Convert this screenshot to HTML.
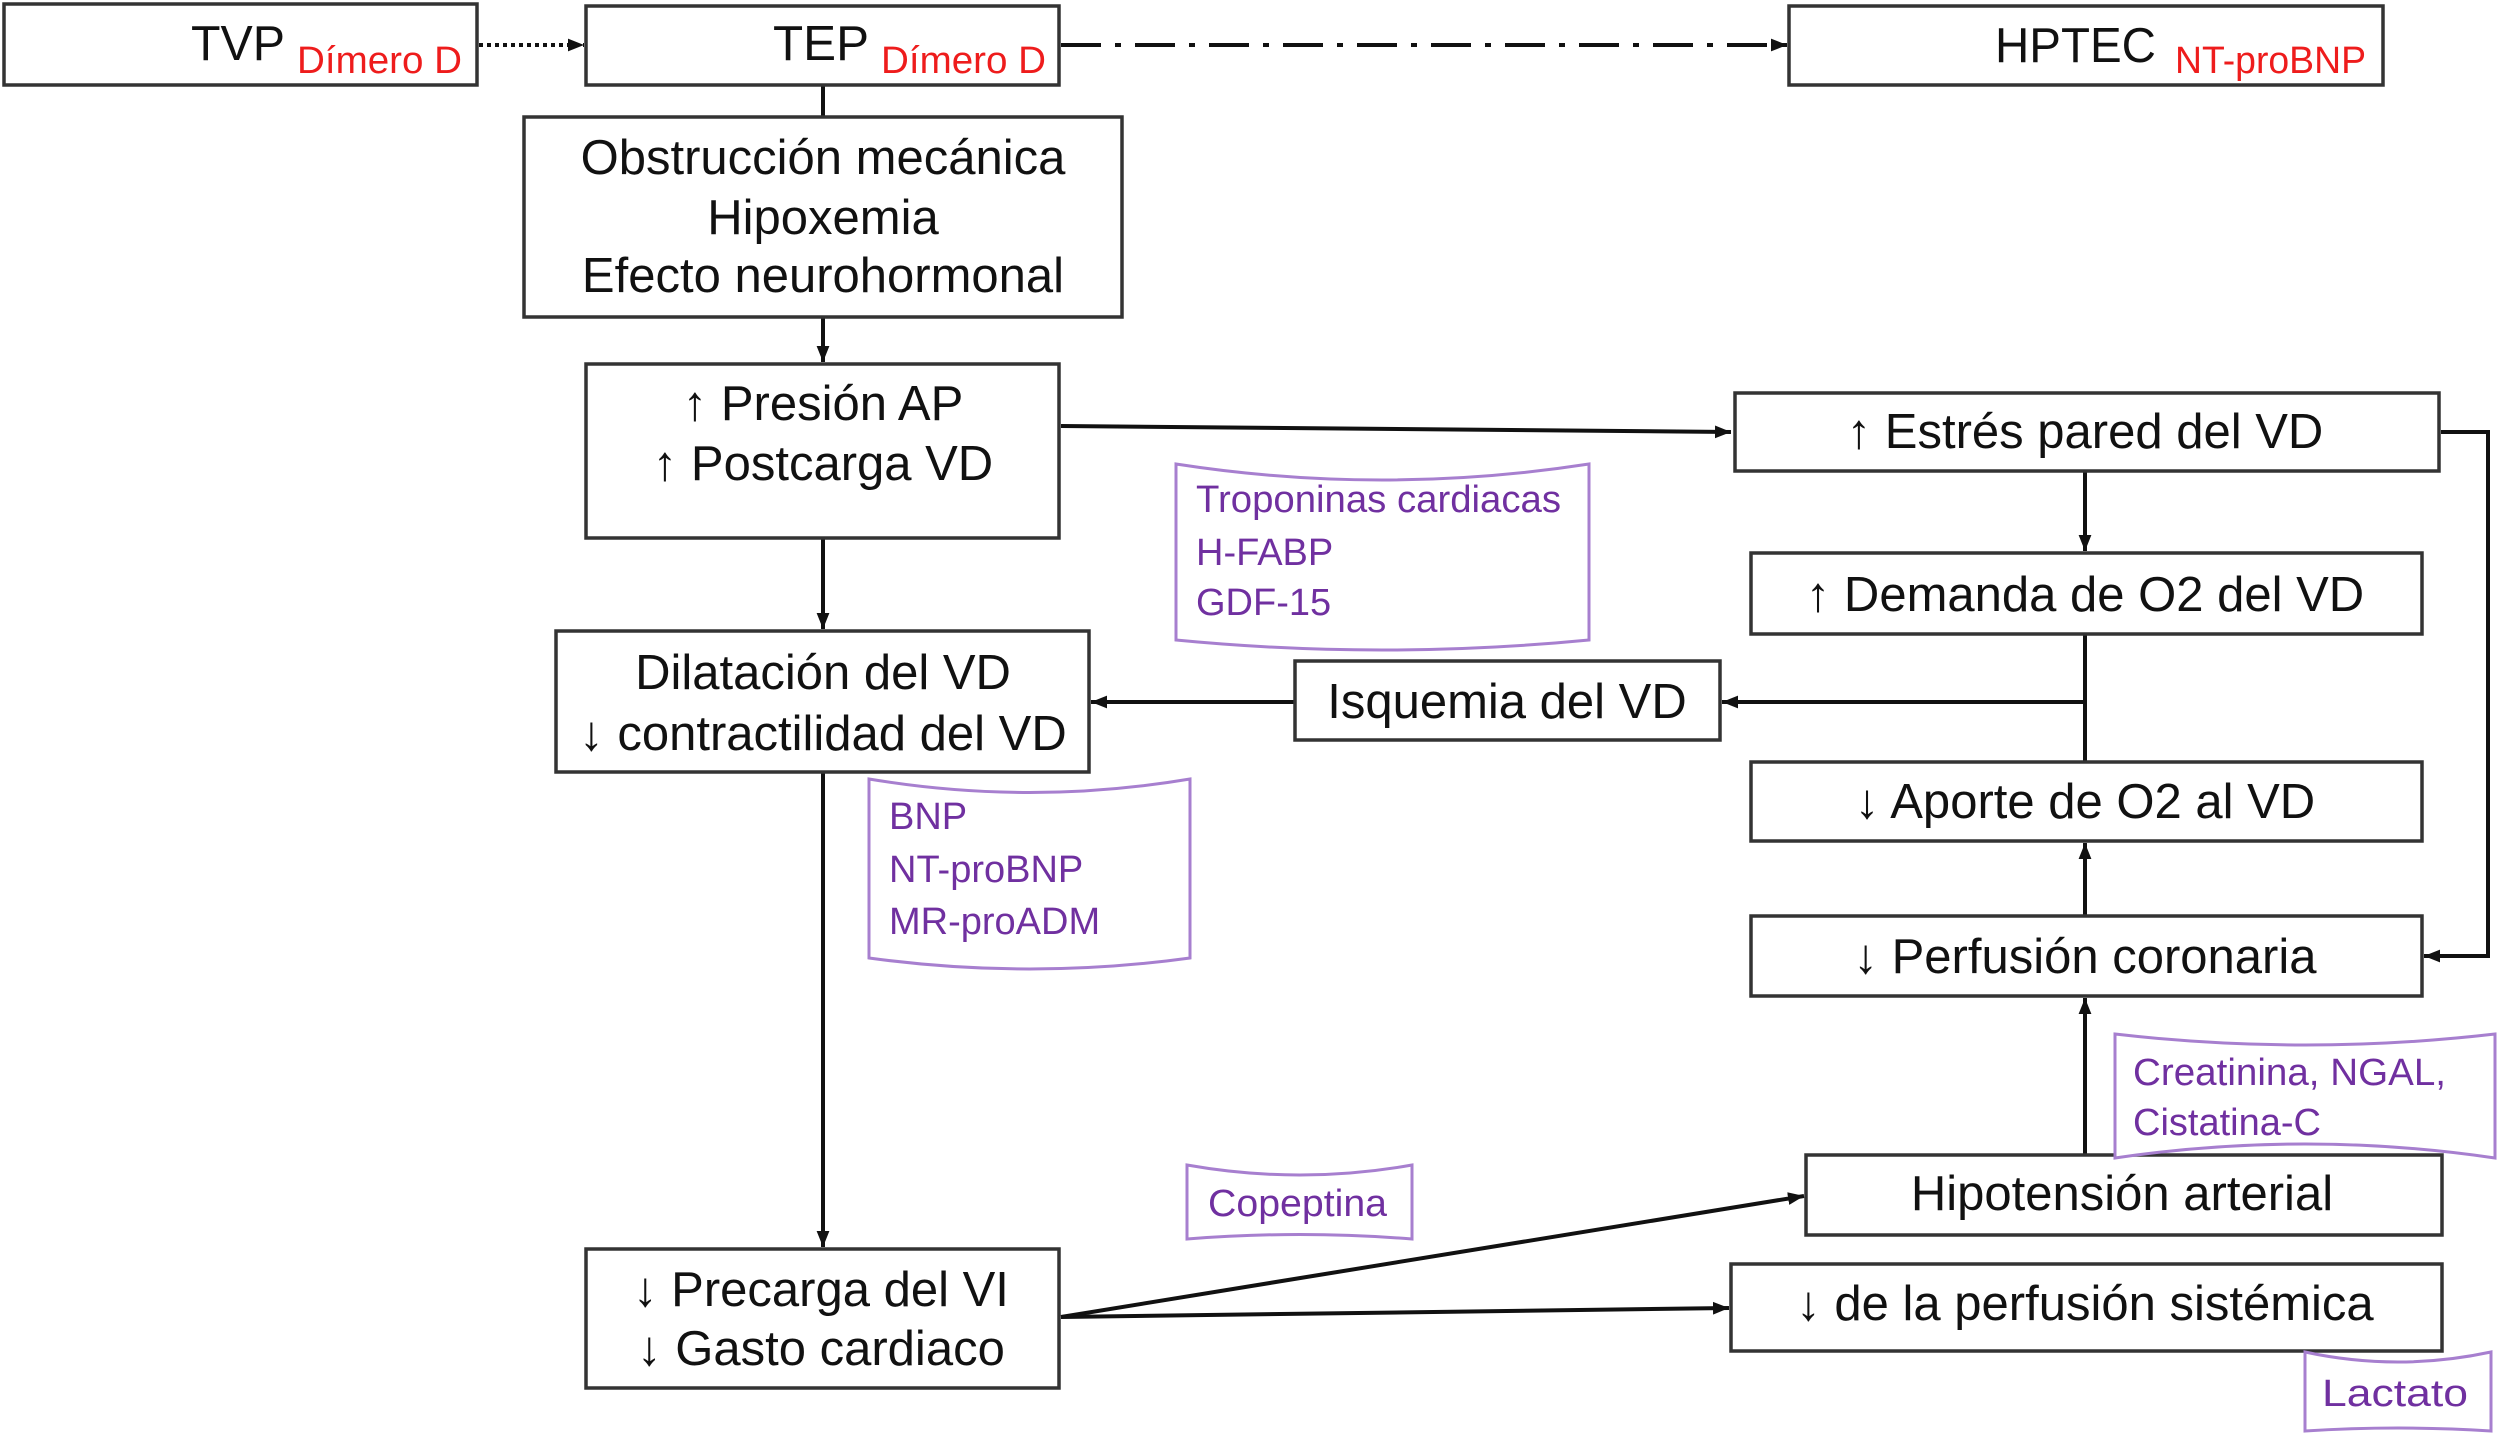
<!DOCTYPE html>
<html><head><meta charset="utf-8"><style>
html,body{margin:0;padding:0;background:#fff;}
svg{display:block;}
.b{fill:#fff;stroke:#333;stroke-width:3.5;}
.t{font-family:"Liberation Sans",Arial,sans-serif;font-size:49px;fill:#111;}
.r{font-family:"Liberation Sans",Arial,sans-serif;font-size:38px;fill:#ee1c1c;}
.p{font-family:"Liberation Sans",Arial,sans-serif;font-size:38px;fill:#7030a0;}
.bub{fill:#fff;stroke:#a77fcf;stroke-width:3;}
.l{stroke:#111;stroke-width:4;fill:none;}
</style></head><body>
<svg width="2500" height="1435" viewBox="0 0 2500 1435" xmlns="http://www.w3.org/2000/svg">
<defs>
<marker id="a" viewBox="0 0 10 10" refX="10" refY="5" markerWidth="4" markerHeight="4" orient="auto" markerUnits="strokeWidth"><path d="M0,1 L10,5 L0,9 z" fill="#111"/></marker>
</defs>

<!-- connectors -->
<line class="l" x1="479" y1="45" x2="584" y2="45" stroke-dasharray="4,4" marker-end="url(#a)"/>
<line class="l" x1="1061" y1="45" x2="1787" y2="45" stroke-dasharray="40,14,6,14" stroke-width="5" marker-end="url(#a)"/>
<line class="l" x1="823" y1="85" x2="823" y2="117"/>
<line class="l" x1="823" y1="317" x2="823" y2="362" marker-end="url(#a)"/>
<line class="l" x1="823" y1="538" x2="823" y2="629" marker-end="url(#a)"/>
<line class="l" x1="823" y1="772" x2="823" y2="1247" marker-end="url(#a)"/>
<line class="l" x1="1061" y1="426" x2="1731" y2="432" marker-end="url(#a)"/>
<line class="l" x1="2085" y1="471" x2="2085" y2="551" marker-end="url(#a)"/>
<line class="l" x1="2085" y1="634" x2="2085" y2="762"/>
<line class="l" x1="2085" y1="702" x2="1722" y2="702" marker-end="url(#a)"/>
<line class="l" x1="1295" y1="702" x2="1091" y2="702" marker-end="url(#a)"/>
<line class="l" x1="2085" y1="916" x2="2085" y2="843" marker-end="url(#a)"/>
<line class="l" x1="2085" y1="1155" x2="2085" y2="998" marker-end="url(#a)"/>
<polyline class="l" points="2441,432 2488,432 2488,956 2424,956" marker-end="url(#a)"/>
<line class="l" x1="1061" y1="1317" x2="1804" y2="1196" marker-end="url(#a)"/>
<line class="l" x1="1061" y1="1317" x2="1729" y2="1308" marker-end="url(#a)"/>

<!-- boxes -->
<rect class="b" x="4" y="4" width="473" height="81"/>
<text class="t" x="191" y="60" textLength="94" lengthAdjust="spacingAndGlyphs">TVP</text>
<text class="r" x="297" y="73" textLength="165" lengthAdjust="spacingAndGlyphs">Dímero D</text>

<rect class="b" x="586" y="6" width="473" height="79"/>
<text class="t" x="773" y="60" textLength="96" lengthAdjust="spacingAndGlyphs">TEP</text>
<text class="r" x="881" y="73" textLength="165" lengthAdjust="spacingAndGlyphs">Dímero D</text>

<rect class="b" x="1789" y="6" width="594" height="79"/>
<text class="t" x="1995" y="62" textLength="161" lengthAdjust="spacingAndGlyphs">HPTEC</text>
<text class="r" x="2175" y="73" textLength="191" lengthAdjust="spacingAndGlyphs">NT-proBNP</text>

<rect class="b" x="524" y="117" width="598" height="200"/>
<text class="t" x="823" y="174" text-anchor="middle">Obstrucción mecánica</text>
<text class="t" x="823" y="234" text-anchor="middle">Hipoxemia</text>
<text class="t" x="823" y="292" text-anchor="middle">Efecto neurohormonal</text>

<rect class="b" x="586" y="364" width="473" height="174"/>
<text class="t" x="823" y="420" text-anchor="middle">↑ Presión AP</text>
<text class="t" x="823" y="480" text-anchor="middle">↑ Postcarga VD</text>

<rect class="b" x="556" y="631" width="533" height="141"/>
<text class="t" x="823" y="689" text-anchor="middle">Dilatación del VD</text>
<text class="t" x="823" y="750" text-anchor="middle">↓ contractilidad del VD</text>

<rect class="b" x="586" y="1249" width="473" height="139"/>
<text class="t" x="821" y="1306" text-anchor="middle">↓ Precarga del VI</text>
<text class="t" x="821" y="1365" text-anchor="middle">↓ Gasto cardiaco</text>

<rect class="b" x="1735" y="393" width="704" height="78"/>
<text class="t" x="2085" y="448" text-anchor="middle">↑ Estrés pared del VD</text>

<rect class="b" x="1751" y="553" width="671" height="81"/>
<text class="t" x="2085" y="611" text-anchor="middle">↑  Demanda de O2 del VD</text>

<rect class="b" x="1295" y="661" width="425" height="79"/>
<text class="t" x="1507" y="718" text-anchor="middle">Isquemia del VD</text>

<rect class="b" x="1751" y="762" width="671" height="79"/>
<text class="t" x="2085" y="818" text-anchor="middle">↓ Aporte de O2 al VD</text>

<rect class="b" x="1751" y="916" width="671" height="80"/>
<text class="t" x="2085" y="973" text-anchor="middle">↓ Perfusión coronaria</text>

<rect class="b" x="1806" y="1155" width="636" height="80"/>
<text class="t" x="2122" y="1210" text-anchor="middle">Hipotensión arterial</text>

<rect class="b" x="1731" y="1264" width="711" height="87"/>
<text class="t" x="2085" y="1320" text-anchor="middle">↓ de la perfusión sistémica</text>

<!-- biomarker bubbles -->
<path class="bub" d="M1176,464 Q1382,496 1589,464 L1589,640 Q1382,660 1176,640 Z"/>
<text class="p" x="1196" y="512" textLength="365" lengthAdjust="spacingAndGlyphs">Troponinas cardiacas</text>
<text class="p" x="1196" y="565">H-FABP</text>
<text class="p" x="1196" y="615">GDF-15</text>

<path class="bub" d="M869,779 Q1030,806 1190,779 L1190,958 Q1030,980 869,958 Z"/>
<text class="p" x="889" y="829">BNP</text>
<text class="p" x="889" y="882">NT-proBNP</text>
<text class="p" x="889" y="934">MR-proADM</text>

<path class="bub" d="M1187,1165 Q1300,1185 1412,1165 L1412,1239 Q1300,1230 1187,1239 Z"/>
<text class="p" x="1208" y="1216" textLength="179" lengthAdjust="spacingAndGlyphs">Copeptina</text>

<path class="bub" d="M2115,1034 Q2305,1056 2495,1034 L2495,1158 Q2305,1130 2115,1158 Z"/>
<text class="p" x="2133" y="1085" textLength="313" lengthAdjust="spacingAndGlyphs">Creatinina, NGAL,</text>
<text class="p" x="2133" y="1135">Cistatina-C</text>

<path class="bub" d="M2305,1352 Q2398,1372 2491,1352 L2491,1431 Q2398,1425 2305,1431 Z"/>
<text class="p" x="2322" y="1406" textLength="146" lengthAdjust="spacingAndGlyphs">Lactato</text>
</svg>
</body></html>
